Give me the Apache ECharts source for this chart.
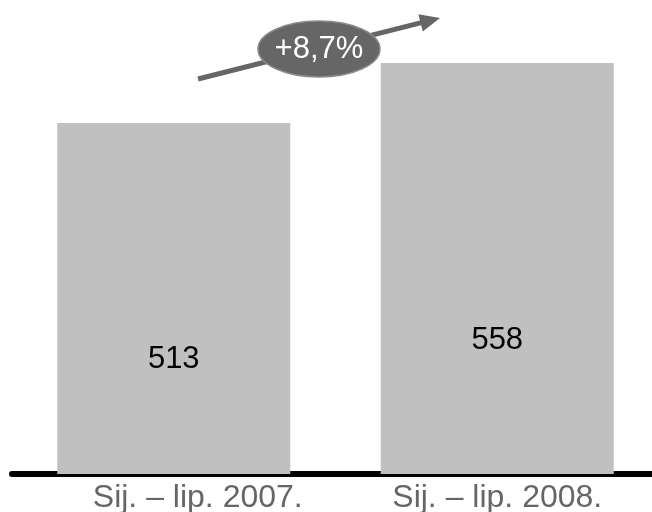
<!DOCTYPE html>
<html>
<head>
<meta charset="utf-8">
<script src="https://cdn.jsdelivr.net/npm/echarts@6/dist/echarts.min.js"></script>
<style>
  html, body { margin: 0; padding: 0; background: #fff; }
  #chart { width: 652px; height: 512px; }
</style>
</head>
<body>
<div id="chart"></div>
<script>
var categories = ['Sij. – lip. 2007.', 'Sij. – lip. 2008.']
var values = [513, 558]
var changeLabel = '+8,7%'

var font = '"Liberation Sans Narrow", "Liberation Sans", Arial, sans-serif'
var chart = echarts.init(document.getElementById('chart'))

// arrow direction for the growth annotation
var ax0 = 198, ay0 = 79, ax1 = 440, ay1 = 18
var ang = Math.atan2(ay1 - ay0, ax1 - ax0)

chart.setOption({
  animation: false,
  grid: { left: 12, right: -7, top: 7, bottom: 38, outerBoundsMode: 'none' },
  xAxis: {
    type: 'category',
    data: categories,
    axisTick: { show: false },
    axisLine: { lineStyle: { color: '#000', width: 6 } },
    axisLabel: {
      interval: 0,
      hideOverlap: false,
      color: '#666',
      fontSize: 32,
      fontFamily: font,
      margin: 8,
      // first label sits a bit right of its bar in the original
      formatter: function (v, i) {
        return i === 0 ? '{shift|' + v + '}' : v
      },
      rich: {
        shift: {
          color: '#666',
          fontSize: 32,
          fontFamily: font,
          padding: [0, 0, 0, 48]
        }
      }
    }
  },
  yAxis: {
    type: 'value',
    min: 250,
    max: 600,
    show: false,
    splitLine: { show: false }
  },
  series: [{
    type: 'bar',
    data: values,
    barWidth: 233,
    itemStyle: { color: '#c0c0c0' },
    label: {
      show: true,
      position: ['50%', '67.5%'],
      align: 'center',
      verticalAlign: 'middle',
      color: '#000',
      fontSize: 31,
      fontFamily: font
    },
    z: 1
  }],
  graphic: [
    {
      type: 'line',
      shape: { x1: ax0, y1: ay0, x2: ax1 - 12 * Math.cos(ang), y2: ay1 - 12 * Math.sin(ang) },
      style: { stroke: '#666', lineWidth: 5 },
      z: 10
    },
    {
      type: 'polygon',
      shape: {
        points: [
          [ax1, ay1],
          [ax1 - 20 * Math.cos(ang) + 9 * Math.sin(ang), ay1 - 20 * Math.sin(ang) - 9 * Math.cos(ang)],
          [ax1 - 20 * Math.cos(ang) - 9 * Math.sin(ang), ay1 - 20 * Math.sin(ang) + 9 * Math.cos(ang)]
        ]
      },
      style: { fill: '#666' },
      z: 10
    },
    {
      type: 'ellipse',
      shape: { cx: 319, cy: 49, rx: 61, ry: 28 },
      style: { fill: '#666', stroke: '#8a8a8a', lineWidth: 1.5 },
      z: 11
    },
    {
      type: 'text',
      x: 319,
      y: 49,
      style: {
        text: changeLabel,
        fill: '#fff',
        fontSize: 31,
        fontFamily: font,
        align: 'center',
        verticalAlign: 'middle'
      },
      z: 12
    }
  ]
})
</script>
</body>
</html>
